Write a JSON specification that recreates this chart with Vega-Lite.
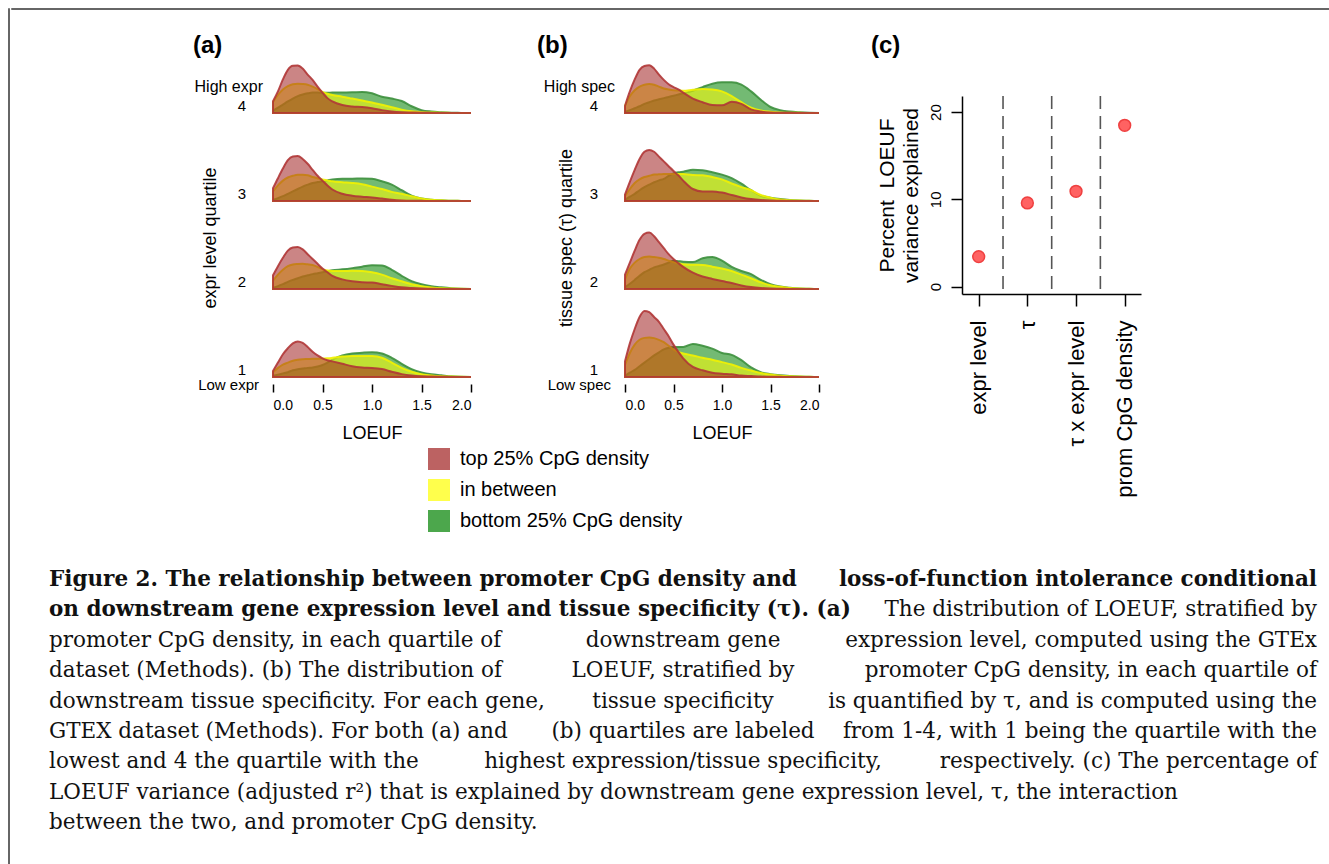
{
 "$schema": "https://vega.github.io/schema/vega-lite/v6.json",
 "padding": {"left": 7, "top": 7, "right": 0, "bottom": 0},
 "background": "white",
 "config": {"view": {"stroke": null}, "font": "Liberation Sans",
   "axis": {"labelColor": "#000", "titleColor": "#000", "tickColor": "#000", "domainColor": "#000", "grid": false},
   "title": {"color": "#000"}},
 "datasets": {
  "A": [
   {"q":4,"g":"T","x":[0,0.05,0.1,0.15,0.2,0.25,0.3,0.35,0.4,0.45,0.5,0.55,0.6,0.7,0.8,0.9,1,1.1,1.2,1.3,1.4,1.5,1.6,1.7,1.8,1.9,2],"d":[0.49,0.9,1.4,1.8,1.97,1.98,1.85,1.6,1.38,1.1,0.85,0.62,0.48,0.33,0.27,0.25,0.2,0.12,0.06,0.03,0.02,0.01,0.005,0,0,0,0]},
   {"q":4,"g":"M","x":[0,0.05,0.1,0.15,0.2,0.25,0.3,0.35,0.4,0.45,0.5,0.55,0.6,0.7,0.8,0.9,1,1.1,1.2,1.3,1.4,1.5,1.6,1.7,1.8,1.9,2],"d":[0.45,0.75,0.98,1.12,1.2,1.22,1.21,1.18,1.1,1.0,0.88,0.8,0.75,0.68,0.6,0.52,0.44,0.34,0.24,0.14,0.07,0.03,0.02,0.01,0.005,0,0]},
   {"q":4,"g":"B","x":[0,0.05,0.1,0.15,0.2,0.25,0.3,0.35,0.4,0.45,0.5,0.55,0.6,0.7,0.8,0.9,1,1.1,1.2,1.3,1.4,1.5,1.6,1.7,1.8,1.9,2],"d":[0.1,0.22,0.35,0.48,0.6,0.7,0.77,0.82,0.85,0.85,0.84,0.84,0.85,0.85,0.86,0.88,0.82,0.68,0.6,0.5,0.28,0.12,0.06,0.03,0.01,0.005,0]},
   {"q":3,"g":"T","x":[0,0.05,0.1,0.15,0.2,0.25,0.3,0.35,0.4,0.45,0.5,0.55,0.6,0.7,0.8,0.9,1,1.1,1.2,1.3,1.4,1.5,1.6,1.7,1.8,1.9,2],"d":[0.53,0.95,1.35,1.7,1.85,1.87,1.75,1.55,1.3,1.05,0.85,0.65,0.48,0.3,0.22,0.18,0.15,0.1,0.05,0.02,0.01,0.01,0,0,0,0,0]},
   {"q":3,"g":"M","x":[0,0.05,0.1,0.15,0.2,0.25,0.3,0.35,0.4,0.45,0.5,0.55,0.6,0.7,0.8,0.9,1,1.1,1.2,1.3,1.4,1.5,1.6,1.7,1.8,1.9,2],"d":[0.4,0.65,0.85,0.98,1.05,1.09,1.09,1.07,1.0,0.95,0.9,0.86,0.82,0.78,0.75,0.7,0.6,0.5,0.38,0.3,0.2,0.1,0.05,0.03,0.01,0.005,0]},
   {"q":3,"g":"B","x":[0,0.05,0.1,0.15,0.2,0.25,0.3,0.35,0.4,0.45,0.5,0.55,0.6,0.7,0.8,0.9,1,1.1,1.2,1.3,1.4,1.5,1.6,1.7,1.8,1.9,2],"d":[0.05,0.12,0.2,0.3,0.4,0.5,0.6,0.68,0.75,0.79,0.82,0.86,0.9,0.93,0.93,0.94,0.93,0.82,0.68,0.45,0.22,0.1,0.05,0.03,0.01,0.005,0]},
   {"q":2,"g":"T","x":[0,0.05,0.1,0.15,0.2,0.25,0.3,0.35,0.4,0.45,0.5,0.55,0.6,0.7,0.8,0.9,1,1.1,1.2,1.3,1.4,1.5,1.6,1.7,1.8,1.9,2],"d":[0.57,0.95,1.3,1.6,1.73,1.75,1.65,1.45,1.25,1.05,0.85,0.7,0.55,0.4,0.32,0.28,0.27,0.2,0.13,0.07,0.04,0.02,0.01,0,0,0,0]},
   {"q":2,"g":"M","x":[0,0.05,0.1,0.15,0.2,0.25,0.3,0.35,0.4,0.45,0.5,0.55,0.6,0.7,0.8,0.9,1,1.1,1.2,1.3,1.4,1.5,1.6,1.7,1.8,1.9,2],"d":[0.35,0.6,0.8,0.95,1.02,1.04,1.05,1.03,1.0,0.92,0.82,0.77,0.75,0.75,0.76,0.75,0.7,0.6,0.45,0.32,0.2,0.12,0.06,0.03,0.02,0.01,0]},
   {"q":2,"g":"B","x":[0,0.05,0.1,0.15,0.2,0.25,0.3,0.35,0.4,0.45,0.5,0.55,0.6,0.7,0.8,0.9,1,1.1,1.2,1.3,1.4,1.5,1.6,1.7,1.8,1.9,2],"d":[0.05,0.12,0.2,0.3,0.38,0.45,0.52,0.57,0.62,0.66,0.7,0.74,0.78,0.82,0.87,0.93,0.99,0.98,0.8,0.55,0.33,0.2,0.12,0.07,0.03,0.01,0]},
   {"q":1,"g":"T","x":[0,0.05,0.1,0.15,0.2,0.25,0.3,0.35,0.4,0.45,0.5,0.55,0.6,0.7,0.8,0.9,1,1.1,1.2,1.3,1.4,1.5,1.6,1.7,1.8,1.9,2],"d":[0.25,0.6,0.95,1.2,1.4,1.48,1.42,1.25,1.05,0.9,0.78,0.7,0.65,0.55,0.45,0.4,0.38,0.33,0.22,0.12,0.06,0.03,0.02,0.01,0,0,0]},
   {"q":1,"g":"M","x":[0,0.05,0.1,0.15,0.2,0.25,0.3,0.35,0.4,0.45,0.5,0.55,0.6,0.7,0.8,0.9,1,1.1,1.2,1.3,1.4,1.5,1.6,1.7,1.8,1.9,2],"d":[0.2,0.38,0.52,0.6,0.68,0.72,0.74,0.75,0.76,0.76,0.77,0.78,0.8,0.85,0.88,0.88,0.87,0.8,0.6,0.38,0.22,0.12,0.06,0.03,0.02,0.01,0]},
   {"q":1,"g":"B","x":[0,0.05,0.1,0.15,0.2,0.25,0.3,0.35,0.4,0.45,0.5,0.55,0.6,0.7,0.8,0.9,1,1.1,1.2,1.3,1.4,1.5,1.6,1.7,1.8,1.9,2],"d":[0.05,0.1,0.15,0.2,0.28,0.32,0.35,0.38,0.4,0.44,0.5,0.6,0.72,0.9,0.98,1.01,1.03,0.98,0.8,0.55,0.33,0.19,0.11,0.07,0.03,0.01,0]},
   {"q":4,"k":"hi","lab":"High expr"},
   {"q":1,"k":"lo","lab":"Low expr"},
   {"q":4,"k":"num","lab":"4"},
   {"q":3,"k":"num","lab":"3"},
   {"q":2,"k":"num","lab":"2"},
   {"q":1,"k":"num","lab":"1"}
  ],
  "B": [
   {"q":4,"g":"T","x":[0,0.05,0.1,0.15,0.2,0.25,0.3,0.35,0.4,0.45,0.5,0.55,0.6,0.7,0.8,0.9,1,1.1,1.2,1.3,1.4,1.5,1.6,1.7,1.8,1.9,2],"d":[0.3,0.9,1.4,1.8,1.96,1.99,1.85,1.6,1.38,1.2,1.08,0.98,0.85,0.6,0.45,0.33,0.32,0.47,0.38,0.15,0.06,0.02,0.01,0.01,0,0,0]},
   {"q":4,"g":"M","x":[0,0.05,0.1,0.15,0.2,0.25,0.3,0.35,0.4,0.45,0.5,0.55,0.6,0.7,0.8,0.9,1,1.1,1.2,1.3,1.4,1.5,1.6,1.7,1.8,1.9,2],"d":[0.3,0.7,0.95,1.1,1.18,1.21,1.18,1.1,1.02,0.98,0.95,0.94,0.93,0.97,1.0,0.98,0.9,0.7,0.45,0.22,0.1,0.05,0.02,0.01,0.01,0,0]},
   {"q":4,"g":"B","x":[0,0.05,0.1,0.15,0.2,0.25,0.3,0.35,0.4,0.45,0.5,0.55,0.6,0.7,0.8,0.9,1,1.1,1.2,1.3,1.4,1.5,1.6,1.7,1.8,1.9,2],"d":[0.05,0.12,0.2,0.28,0.38,0.45,0.52,0.57,0.62,0.67,0.72,0.77,0.82,0.93,1.08,1.22,1.28,1.28,1.18,0.9,0.55,0.25,0.12,0.06,0.03,0.01,0]},
   {"q":3,"g":"T","x":[0,0.05,0.1,0.15,0.2,0.25,0.3,0.35,0.4,0.45,0.5,0.55,0.6,0.7,0.8,0.9,1,1.1,1.2,1.3,1.4,1.5,1.6,1.7,1.8,1.9,2],"d":[0.27,0.8,1.3,1.75,2.05,2.13,2.05,1.85,1.65,1.45,1.25,1.07,0.85,0.5,0.4,0.4,0.35,0.25,0.15,0.08,0.04,0.02,0.01,0,0,0,0]},
   {"q":3,"g":"M","x":[0,0.05,0.1,0.15,0.2,0.25,0.3,0.35,0.4,0.45,0.5,0.55,0.6,0.7,0.8,0.9,1,1.1,1.2,1.3,1.4,1.5,1.6,1.7,1.8,1.9,2],"d":[0.2,0.5,0.75,0.9,1.0,1.05,1.1,1.11,1.12,1.13,1.13,1.13,1.12,1.08,1.07,1.0,0.9,0.73,0.58,0.45,0.25,0.14,0.06,0.03,0.02,0.01,0]},
   {"q":3,"g":"B","x":[0,0.05,0.1,0.15,0.2,0.25,0.3,0.35,0.4,0.45,0.5,0.55,0.6,0.7,0.8,0.9,1,1.1,1.2,1.3,1.4,1.5,1.6,1.7,1.8,1.9,2],"d":[0.05,0.18,0.3,0.45,0.58,0.68,0.78,0.86,0.92,1.05,1.15,1.2,1.22,1.3,1.28,1.2,1.1,0.95,0.72,0.45,0.22,0.14,0.08,0.04,0.02,0.01,0]},
   {"q":2,"g":"T","x":[0,0.05,0.1,0.15,0.2,0.25,0.3,0.35,0.4,0.45,0.5,0.55,0.6,0.7,0.8,0.9,1,1.1,1.2,1.3,1.4,1.5,1.6,1.7,1.8,1.9,2],"d":[0.6,1.1,1.6,2.05,2.3,2.35,2.2,1.95,1.7,1.45,1.25,1.08,0.92,0.68,0.52,0.42,0.33,0.25,0.15,0.08,0.04,0.02,0.01,0,0,0,0]},
   {"q":2,"g":"M","x":[0,0.05,0.1,0.15,0.2,0.25,0.3,0.35,0.4,0.45,0.5,0.55,0.6,0.7,0.8,0.9,1,1.1,1.2,1.3,1.4,1.5,1.6,1.7,1.8,1.9,2],"d":[0.4,0.85,1.1,1.25,1.33,1.35,1.33,1.3,1.25,1.18,1.12,1.07,1.03,1.01,1.0,0.93,0.85,0.75,0.6,0.45,0.28,0.16,0.09,0.04,0.02,0.01,0]},
   {"q":2,"g":"B","x":[0,0.05,0.1,0.15,0.2,0.25,0.3,0.35,0.4,0.45,0.5,0.55,0.6,0.7,0.8,0.9,1,1.1,1.2,1.3,1.4,1.5,1.6,1.7,1.8,1.9,2],"d":[0.08,0.22,0.38,0.55,0.7,0.8,0.9,0.96,1.02,1.1,1.18,1.16,1.14,1.12,1.28,1.33,1.18,0.92,0.75,0.62,0.38,0.2,0.1,0.05,0.02,0.01,0]},
   {"q":1,"g":"T","x":[0,0.05,0.1,0.15,0.2,0.25,0.3,0.35,0.4,0.45,0.5,0.55,0.6,0.7,0.8,0.9,1,1.1,1.2,1.3,1.4,1.5,1.6,1.7,1.8,1.9,2],"d":[0.65,1.4,2.0,2.5,2.75,2.7,2.5,2.3,2.0,1.7,1.35,1.05,0.78,0.42,0.28,0.18,0.14,0.11,0.06,0.04,0.02,0.01,0.01,0,0,0,0]},
   {"q":1,"g":"M","x":[0,0.05,0.1,0.15,0.2,0.25,0.3,0.35,0.4,0.45,0.5,0.55,0.6,0.7,0.8,0.9,1,1.1,1.2,1.3,1.4,1.5,1.6,1.7,1.8,1.9,2],"d":[0.5,1.0,1.35,1.55,1.63,1.65,1.62,1.55,1.45,1.3,1.15,1.05,0.98,0.9,0.8,0.72,0.62,0.52,0.38,0.27,0.17,0.1,0.05,0.03,0.02,0.01,0]},
   {"q":1,"g":"B","x":[0,0.05,0.1,0.15,0.2,0.25,0.3,0.35,0.4,0.45,0.5,0.55,0.6,0.7,0.8,0.9,1,1.1,1.2,1.3,1.4,1.5,1.6,1.7,1.8,1.9,2],"d":[0.05,0.18,0.3,0.45,0.6,0.75,0.9,1.03,1.15,1.22,1.25,1.25,1.25,1.38,1.3,1.18,1.0,0.92,0.7,0.4,0.2,0.12,0.07,0.04,0.02,0.01,0]},
   {"q":4,"k":"hi","lab":"High spec"},
   {"q":1,"k":"lo","lab":"Low spec"},
   {"q":4,"k":"num","lab":"4"},
   {"q":3,"k":"num","lab":"3"},
   {"q":2,"k":"num","lab":"2"},
   {"q":1,"k":"num","lab":"1"}
  ],
  "capB": [
   {"ln":1,"pt":"L","t":"Figure 2. The relationship between promoter CpG density and"},
   {"ln":1,"pt":"R","t":"loss-of-function intolerance conditional"},
   {"ln":2,"pt":"L","t":"on downstream gene expression level and tissue specificity (τ). (a)"}
  ],
  "capR": [
   {"ln":2,"pt":"R","t":"The distribution of LOEUF, stratified by"},
   {"ln":3,"pt":"L","t":"promoter CpG density, in each quartile of"},
   {"ln":3,"pt":"M","t":"downstream gene"},
   {"ln":3,"pt":"R","t":"expression level, computed using the GTEx"},
   {"ln":4,"pt":"L","t":"dataset (Methods). (b) The distribution of"},
   {"ln":4,"pt":"M","t":"LOEUF, stratified by"},
   {"ln":4,"pt":"R","t":"promoter CpG density, in each quartile of"},
   {"ln":5,"pt":"L","t":"downstream tissue specificity. For each gene,"},
   {"ln":5,"pt":"M","t":"tissue specificity"},
   {"ln":5,"pt":"R","t":"is quantified by τ, and is computed using the"},
   {"ln":6,"pt":"L","t":"GTEX dataset (Methods). For both (a) and"},
   {"ln":6,"pt":"M","t":"(b) quartiles are labeled"},
   {"ln":6,"pt":"R","t":"from 1-4, with 1 being the quartile with the"},
   {"ln":7,"pt":"L","t":"lowest and 4 the quartile with the"},
   {"ln":7,"pt":"M","t":"highest expression/tissue specificity,"},
   {"ln":7,"pt":"R","t":"respectively. (c) The percentage of"},
   {"ln":8,"pt":"L","t":"LOEUF variance (adjusted r²) that is explained by downstream gene expression level, τ, the interaction"},
   {"ln":9,"pt":"L","t":"between the two, and promoter CpG density."}
  ]
 },
 "hconcat": [
  {"data": {"values": []}, "mark": "point", "width": 1, "height": 900, "view": {"stroke": "#666", "strokeWidth": 1}},
  {"vconcat": [
    {"data": {"values": []}, "mark": "point", "width": 1330, "height": 1, "view": {"stroke": "#666", "strokeWidth": 1}},
    {"vconcat": [
      {"hconcat": [
        {"data": {"values": []}, "mark": "point", "width": 125, "height": 1},
        {"hconcat": [
          {"hconcat": [
            {"data": {"name": "A"},
             "facet": {"row": {"field": "q", "type": "ordinal", "sort": "descending", "title": null, "header": {"labelExpr": "''", "labelPadding": 0}}},
             "spacing": 0,
             "title": {"text": "(a)", "anchor": "start", "frame": "bounds", "fontSize": 24, "fontWeight": "bold", "offset": -17, "dx": 9},
             "spec": {"width": 198, "height": 72,
              "layer": [
               {"transform": [{"filter": "datum.g==='B'"}, {"flatten": ["x", "d"]}],
                "mark": {"type": "area", "interpolate": "monotone", "fillOpacity": 0.55, "stroke": "#3c8f3c", "strokeWidth": 2, "strokeOpacity": 0.9},
                "encoding": {
                 "x": {"field": "x", "type": "quantitative", "scale": {"domain": [0, 2]}, "axis": {"values": [0, 0.5, 1, 1.5, 2], "format": ".1f", "domain": false, "tickSize": 8, "tickWidth": 1.5, "offset": -9, "labelFontSize": 14, "labelPadding": 6, "title": "LOEUF", "titleFontSize": 18, "titleFontWeight": "normal", "titlePadding": 12}},
                 "y": {"field": "d", "type": "quantitative", "stack": null, "scale": {"domain": [0, 2.88]}, "axis": null},
                 "color": {"field": "g", "type": "nominal", "scale": {"domain": ["T", "M", "B"], "range": ["#a02020", "#ffff00", "#008200"]},
                   "legend": {"orient": "none", "legendX": 420, "legendY": 440, "title": null, "symbolType": "square", "symbolSize": 484, "symbolStrokeWidth": 0, "symbolOpacity": 0.7, "labelFontSize": 20, "labelLimit": 0, "rowPadding": 9, "labelOffset": 10, "padding": 0, "labelColor": "#000", "labelExpr": "datum.label=='T'?'top 25% CpG density':datum.label=='M'?'in between':'bottom 25% CpG density'"}}}},
               {"transform": [{"filter": "datum.g==='M'"}, {"flatten": ["x", "d"]}],
                "mark": {"type": "area", "interpolate": "monotone", "fillOpacity": 0.55, "stroke": "#f2f200", "strokeWidth": 2, "strokeOpacity": 0.9},
                "encoding": {
                 "x": {"field": "x", "type": "quantitative", "scale": {"domain": [0, 2]}, "axis": {"values": [0, 0.5, 1, 1.5, 2], "format": ".1f", "domain": false, "tickSize": 8, "tickWidth": 1.5, "offset": -9, "labelFontSize": 14, "labelPadding": 6, "title": "LOEUF", "titleFontSize": 18, "titleFontWeight": "normal", "titlePadding": 12}},
                 "y": {"field": "d", "type": "quantitative", "stack": null, "scale": {"domain": [0, 2.88]}, "axis": null},
                 "color": {"field": "g", "type": "nominal", "scale": {"domain": ["T", "M", "B"], "range": ["#a02020", "#ffff00", "#008200"]},
                   "legend": {"orient": "none", "legendX": 420, "legendY": 440, "title": null, "symbolType": "square", "symbolSize": 484, "symbolStrokeWidth": 0, "symbolOpacity": 0.7, "labelFontSize": 20, "labelLimit": 0, "rowPadding": 9, "labelOffset": 10, "padding": 0, "labelColor": "#000", "labelExpr": "datum.label=='T'?'top 25% CpG density':datum.label=='M'?'in between':'bottom 25% CpG density'"}}}},
               {"transform": [{"filter": "datum.g==='T'"}, {"flatten": ["x", "d"]}],
                "mark": {"type": "area", "interpolate": "monotone", "fillOpacity": 0.55, "stroke": "#b03636", "strokeWidth": 2, "strokeOpacity": 0.9},
                "encoding": {
                 "x": {"field": "x", "type": "quantitative", "scale": {"domain": [0, 2]}, "axis": {"values": [0, 0.5, 1, 1.5, 2], "format": ".1f", "domain": false, "tickSize": 8, "tickWidth": 1.5, "offset": -9, "labelFontSize": 14, "labelPadding": 6, "title": "LOEUF", "titleFontSize": 18, "titleFontWeight": "normal", "titlePadding": 12}},
                 "y": {"field": "d", "type": "quantitative", "stack": null, "scale": {"domain": [0, 2.88]}, "axis": null},
                 "color": {"field": "g", "type": "nominal", "scale": {"domain": ["T", "M", "B"], "range": ["#a02020", "#ffff00", "#008200"]},
                   "legend": {"orient": "none", "legendX": 420, "legendY": 440, "title": null, "symbolType": "square", "symbolSize": 484, "symbolStrokeWidth": 0, "symbolOpacity": 0.7, "labelFontSize": 20, "labelLimit": 0, "rowPadding": 9, "labelOffset": 10, "padding": 0, "labelColor": "#000", "labelExpr": "datum.label=='T'?'top 25% CpG density':datum.label=='M'?'in between':'bottom 25% CpG density'"}}}},
               {"transform": [{"filter": "datum.k==='num'"}],
                "mark": {"type": "text", "align": "right", "baseline": "alphabetic", "dx": -27, "dy": -2, "fontSize": 15, "color": "#000"},
                "encoding": {"x": {"datum": 0, "type": "quantitative", "axis": {"values": [0, 0.5, 1, 1.5, 2], "format": ".1f", "domain": false, "tickSize": 8, "tickWidth": 1.5, "offset": -9, "labelFontSize": 14, "labelPadding": 6, "title": "LOEUF", "titleFontSize": 18, "titleFontWeight": "normal", "titlePadding": 12}}, "y": {"datum": 0, "type": "quantitative", "axis": null}, "text": {"field": "lab"}}},
               {"transform": [{"filter": "datum.k==='hi'"}],
                "mark": {"type": "text", "align": "right", "baseline": "middle", "dx": -10, "fontSize": 16, "color": "#000"},
                "encoding": {"x": {"datum": 0, "type": "quantitative", "axis": {"values": [0, 0.5, 1, 1.5, 2], "format": ".1f", "domain": false, "tickSize": 8, "tickWidth": 1.5, "offset": -9, "labelFontSize": 14, "labelPadding": 6, "title": "LOEUF", "titleFontSize": 18, "titleFontWeight": "normal", "titlePadding": 12}}, "y": {"datum": 1.1, "type": "quantitative", "axis": null}, "text": {"field": "lab"}}},
               {"transform": [{"filter": "datum.k==='lo'"}],
                "mark": {"type": "text", "align": "right", "baseline": "middle", "dx": -14, "fontSize": 15, "color": "#000"},
                "encoding": {"x": {"datum": 0, "type": "quantitative", "axis": {"values": [0, 0.5, 1, 1.5, 2], "format": ".1f", "domain": false, "tickSize": 8, "tickWidth": 1.5, "offset": -9, "labelFontSize": 14, "labelPadding": 6, "title": "LOEUF", "titleFontSize": 18, "titleFontWeight": "normal", "titlePadding": 12}}, "y": {"datum": -0.32, "type": "quantitative", "axis": null}, "text": {"field": "lab"}}}
              ]}}
           ],
           "title": {"text": "expr level quartile", "orient": "left", "anchor": "middle", "frame": "bounds", "fontSize": 18, "fontWeight": "normal", "offset": -36}},
          {"hconcat": [
            {"data": {"name": "B"},
             "facet": {"row": {"field": "q", "type": "ordinal", "sort": "descending", "title": null, "header": {"labelExpr": "''", "labelPadding": 0}}},
             "spacing": 0,
             "title": {"text": "(b)", "anchor": "start", "frame": "bounds", "fontSize": 24, "fontWeight": "bold", "offset": -17, "dx": 4},
             "spec": {"width": 194, "height": 72,
              "layer": [
               {"transform": [{"filter": "datum.g==='B'"}, {"flatten": ["x", "d"]}],
                "mark": {"type": "area", "interpolate": "monotone", "fillOpacity": 0.55, "stroke": "#3c8f3c", "strokeWidth": 2, "strokeOpacity": 0.9},
                "encoding": {
                 "x": {"field": "x", "type": "quantitative", "scale": {"domain": [0, 2]}, "axis": {"values": [0, 0.5, 1, 1.5, 2], "format": ".1f", "domain": false, "tickSize": 8, "tickWidth": 1.5, "offset": -9, "labelFontSize": 14, "labelPadding": 6, "title": "LOEUF", "titleFontSize": 18, "titleFontWeight": "normal", "titlePadding": 12}},
                 "y": {"field": "d", "type": "quantitative", "stack": null, "scale": {"domain": [0, 2.88]}, "axis": null},
                 "color": {"field": "g", "type": "nominal", "scale": {"domain": ["T", "M", "B"], "range": ["#a02020", "#ffff00", "#008200"]},
                   "legend": {"orient": "none", "legendX": 420, "legendY": 440, "title": null, "symbolType": "square", "symbolSize": 484, "symbolStrokeWidth": 0, "symbolOpacity": 0.7, "labelFontSize": 20, "labelLimit": 0, "rowPadding": 9, "labelOffset": 10, "padding": 0, "labelColor": "#000", "labelExpr": "datum.label=='T'?'top 25% CpG density':datum.label=='M'?'in between':'bottom 25% CpG density'"}}}},
               {"transform": [{"filter": "datum.g==='M'"}, {"flatten": ["x", "d"]}],
                "mark": {"type": "area", "interpolate": "monotone", "fillOpacity": 0.55, "stroke": "#f2f200", "strokeWidth": 2, "strokeOpacity": 0.9},
                "encoding": {
                 "x": {"field": "x", "type": "quantitative", "scale": {"domain": [0, 2]}, "axis": {"values": [0, 0.5, 1, 1.5, 2], "format": ".1f", "domain": false, "tickSize": 8, "tickWidth": 1.5, "offset": -9, "labelFontSize": 14, "labelPadding": 6, "title": "LOEUF", "titleFontSize": 18, "titleFontWeight": "normal", "titlePadding": 12}},
                 "y": {"field": "d", "type": "quantitative", "stack": null, "scale": {"domain": [0, 2.88]}, "axis": null},
                 "color": {"field": "g", "type": "nominal", "scale": {"domain": ["T", "M", "B"], "range": ["#a02020", "#ffff00", "#008200"]},
                   "legend": {"orient": "none", "legendX": 420, "legendY": 440, "title": null, "symbolType": "square", "symbolSize": 484, "symbolStrokeWidth": 0, "symbolOpacity": 0.7, "labelFontSize": 20, "labelLimit": 0, "rowPadding": 9, "labelOffset": 10, "padding": 0, "labelColor": "#000", "labelExpr": "datum.label=='T'?'top 25% CpG density':datum.label=='M'?'in between':'bottom 25% CpG density'"}}}},
               {"transform": [{"filter": "datum.g==='T'"}, {"flatten": ["x", "d"]}],
                "mark": {"type": "area", "interpolate": "monotone", "fillOpacity": 0.55, "stroke": "#b03636", "strokeWidth": 2, "strokeOpacity": 0.9},
                "encoding": {
                 "x": {"field": "x", "type": "quantitative", "scale": {"domain": [0, 2]}, "axis": {"values": [0, 0.5, 1, 1.5, 2], "format": ".1f", "domain": false, "tickSize": 8, "tickWidth": 1.5, "offset": -9, "labelFontSize": 14, "labelPadding": 6, "title": "LOEUF", "titleFontSize": 18, "titleFontWeight": "normal", "titlePadding": 12}},
                 "y": {"field": "d", "type": "quantitative", "stack": null, "scale": {"domain": [0, 2.88]}, "axis": null},
                 "color": {"field": "g", "type": "nominal", "scale": {"domain": ["T", "M", "B"], "range": ["#a02020", "#ffff00", "#008200"]},
                   "legend": {"orient": "none", "legendX": 420, "legendY": 440, "title": null, "symbolType": "square", "symbolSize": 484, "symbolStrokeWidth": 0, "symbolOpacity": 0.7, "labelFontSize": 20, "labelLimit": 0, "rowPadding": 9, "labelOffset": 10, "padding": 0, "labelColor": "#000", "labelExpr": "datum.label=='T'?'top 25% CpG density':datum.label=='M'?'in between':'bottom 25% CpG density'"}}}},
               {"transform": [{"filter": "datum.k==='num'"}],
                "mark": {"type": "text", "align": "right", "baseline": "alphabetic", "dx": -27, "dy": -2, "fontSize": 15, "color": "#000"},
                "encoding": {"x": {"datum": 0, "type": "quantitative", "axis": {"values": [0, 0.5, 1, 1.5, 2], "format": ".1f", "domain": false, "tickSize": 8, "tickWidth": 1.5, "offset": -9, "labelFontSize": 14, "labelPadding": 6, "title": "LOEUF", "titleFontSize": 18, "titleFontWeight": "normal", "titlePadding": 12}}, "y": {"datum": 0, "type": "quantitative", "axis": null}, "text": {"field": "lab"}}},
               {"transform": [{"filter": "datum.k==='hi'"}],
                "mark": {"type": "text", "align": "right", "baseline": "middle", "dx": -10, "fontSize": 16, "color": "#000"},
                "encoding": {"x": {"datum": 0, "type": "quantitative", "axis": {"values": [0, 0.5, 1, 1.5, 2], "format": ".1f", "domain": false, "tickSize": 8, "tickWidth": 1.5, "offset": -9, "labelFontSize": 14, "labelPadding": 6, "title": "LOEUF", "titleFontSize": 18, "titleFontWeight": "normal", "titlePadding": 12}}, "y": {"datum": 1.1, "type": "quantitative", "axis": null}, "text": {"field": "lab"}}},
               {"transform": [{"filter": "datum.k==='lo'"}],
                "mark": {"type": "text", "align": "right", "baseline": "middle", "dx": -14, "fontSize": 15, "color": "#000"},
                "encoding": {"x": {"datum": 0, "type": "quantitative", "axis": {"values": [0, 0.5, 1, 1.5, 2], "format": ".1f", "domain": false, "tickSize": 8, "tickWidth": 1.5, "offset": -9, "labelFontSize": 14, "labelPadding": 6, "title": "LOEUF", "titleFontSize": 18, "titleFontWeight": "normal", "titlePadding": 12}}, "y": {"datum": -0.32, "type": "quantitative", "axis": null}, "text": {"field": "lab"}}}
              ]}}
           ],
           "title": {"text": "tissue spec (τ) quartile", "orient": "left", "anchor": "middle", "frame": "bounds", "fontSize": 18, "fontWeight": "normal", "offset": -43}}
        ], "spacing": 58},
        {"vconcat": [
          {"data": {"values": []}, "mark": "point", "width": 1, "height": 54},
          {"width": 179, "height": 198,
           "layer": [
            {"data": {"values": [{"v": 1.5}, {"v": 2.5}, {"v": 3.5}]},
             "mark": {"type": "rule", "strokeDash": [13, 7], "color": "#555", "strokeWidth": 1.6},
             "encoding": {"x": {"field": "v", "type": "quantitative", "scale": {"domain": [0.657, 4.335], "nice": false, "zero": false},
               "axis": {"values": [1, 2, 3, 4], "title": null, "labelExpr": "['','expr level','τ','τ x expr level','prom CpG density'][datum.value]", "labelAngle": -90, "labelFontSize": 22, "tickSize": 12, "tickWidth": 1.5, "domainWidth": 1.5, "labelPadding": 14}}}},
            {"data": {"values": [{"k": 1, "pct": 3.44}, {"k": 2, "pct": 9.59}, {"k": 3, "pct": 10.92}, {"k": 4, "pct": 18.48}]},
             "mark": {"type": "circle", "size": 140, "color": "#ff5555", "opacity": 0.92, "stroke": "#ee3030", "strokeWidth": 1.5},
             "encoding": {
              "x": {"field": "k", "type": "quantitative", "scale": {"domain": [0.657, 4.335], "nice": false, "zero": false},
               "axis": {"values": [1, 2, 3, 4], "title": null, "labelExpr": "['','expr level','τ','τ x expr level','prom CpG density'][datum.value]", "labelAngle": -90, "labelFontSize": 22, "tickSize": 12, "tickWidth": 1.5, "domainWidth": 1.5, "labelPadding": 14}},
              "y": {"field": "pct", "type": "quantitative", "scale": {"domain": [-0.84, 21.84], "nice": false, "zero": false},
               "axis": {"values": [0, 10, 20], "labelAngle": -90, "labelFontSize": 15, "tickSize": 11, "tickWidth": 1.5, "domainWidth": 1.5, "labelPadding": 8,
                "title": ["Percent\u00a0 LOEUF", "variance explained"], "titleFontSize": 21, "titleFontWeight": "normal", "titleLineHeight": 24, "titlePadding": 7}}}}
           ]}
        ], "spacing": 0,
         "title": {"text": "(c)", "anchor": "start", "frame": "bounds", "fontSize": 24, "fontWeight": "bold", "offset": -17, "dx": -5}}
      ], "spacing": 48},
      {"hconcat": [
        {"data": {"values": []}, "mark": "point", "width": 38, "height": 1},
        {"width": 1268, "height": 243,
         "encoding": {
          "x": {"field": "pt", "type": "nominal", "scale": {"type": "point", "domain": ["L", "M", "R"], "padding": 0}, "axis": null},
          "y": {"field": "ln", "type": "ordinal", "scale": {"type": "point", "domain": [1, 2, 3, 4, 5, 6, 7, 8, 9], "padding": 0}, "axis": null},
          "text": {"field": "t"}},
         "layer": [
          {"data": {"name": "capB"}, "transform": [{"filter": "datum.pt==='L'"}], "mark": {"type": "text", "align": "left", "baseline": "middle", "font": "DejaVu Serif", "fontSize": 21.5, "fontWeight": "bold", "color": "#111"}},
          {"data": {"name": "capB"}, "transform": [{"filter": "datum.pt==='R'"}], "mark": {"type": "text", "align": "right", "baseline": "middle", "font": "DejaVu Serif", "fontSize": 21.5, "fontWeight": "bold", "color": "#111"}},
          {"data": {"name": "capR"}, "transform": [{"filter": "datum.pt==='L'"}], "mark": {"type": "text", "align": "left", "baseline": "middle", "font": "DejaVu Serif", "fontSize": 21.5, "color": "#111"}},
          {"data": {"name": "capR"}, "transform": [{"filter": "datum.pt==='M'"}], "mark": {"type": "text", "align": "center", "baseline": "middle", "font": "DejaVu Serif", "fontSize": 21.5, "color": "#111"}},
          {"data": {"name": "capR"}, "transform": [{"filter": "datum.pt==='R'"}], "mark": {"type": "text", "align": "right", "baseline": "middle", "font": "DejaVu Serif", "fontSize": 21.5, "color": "#111"}}
         ]}
      ], "spacing": 0}
    ], "spacing": 71}
  ], "spacing": 24}
 ],
 "spacing": 0
}
